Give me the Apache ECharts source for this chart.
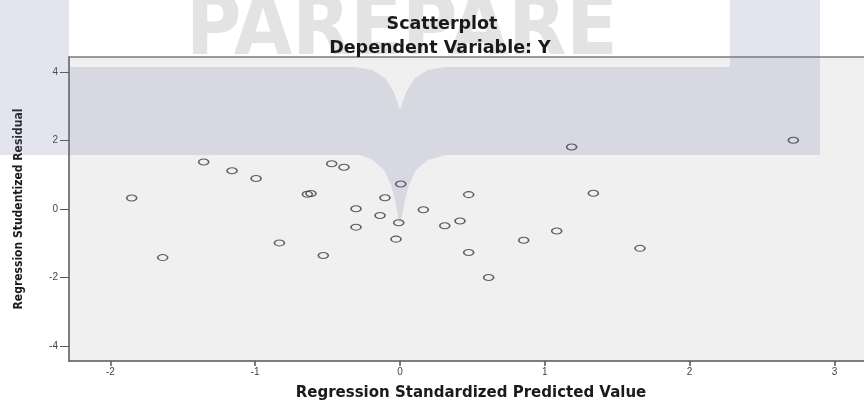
<!DOCTYPE html>
<html>
<head>
<meta charset="utf-8">
<script src="https://cdn.jsdelivr.net/npm/echarts@6/dist/echarts.min.js"></script>
<style>
  html, body { margin: 0; padding: 0; background: #fff; }
  #main { width: 864px; height: 401px; }
</style>
</head>
<body>
<div id="main"></div>
<script>
// standardized predicted value (x) and studentized residual (y)
var predicted = [-1.853, -1.639, -1.356, -1.160, -0.994, -0.833, -0.640, -0.615, -0.530, -0.472,
                 -0.387, -0.304, -0.304, -0.138, -0.104, -0.028, -0.009, 0.005, 0.161, 0.309,
                 0.414, 0.474, 0.474, 0.612, 0.854, 1.082, 1.185, 1.335, 1.657, 2.716];
var residual = [0.32, -1.42, 1.37, 1.12, 0.89, -0.99, 0.43, 0.45, -1.36, 1.32,
                1.22, 0.01, -0.53, -0.19, 0.33, -0.88, -0.40, 0.73, -0.02, -0.49,
                -0.35, 0.42, -1.27, -2.00, -0.91, -0.64, 1.81, 0.46, -1.15, 2.01];
var xTicks = [-2, -1, 0, 1, 2, 3];
var yTicks = [-4, -2, 0, 2, 4];

var Scatter_Resid = function () {

    const title = 'Scatterplot';
    const subTitle = 'Dependent Variable: Y';
    const xName = 'Regression Standardized Predicted Value';
    const yName = 'Regression Studentized Residual';

    // watermark outline (decoration only, not data)
    const wmShape = [
        [0, 0], [69, 0], [69, 67], [355, 67], [372, 70], [385, 78], [394, 92], [400, 110],
        [406, 92], [415, 78], [428, 70], [445, 67], [730, 67], [730, 0], [820, 0], [820, 155],
        [445, 155], [428, 160], [416, 170], [409, 185], [405, 200], [401, 222], [399, 222],
        [395, 200], [391, 185], [384, 170], [373, 160], [360, 155], [0, 155]
    ];

    var buildPoints = function () {
        var result = [];
        for (var i = 0; i < predicted.length; i++) {
            result.push([predicted[i], residual[i]]);
        }
        return result;
    };

    var initChart = function () {
        var myChart = echarts.init(document.getElementById('main'), null, {renderer: 'canvas'});

        var option = {
            backgroundColor: '#ffffff',
            animation: false,
            title: [
                {   // 标题
                    text: title, left: 437, top: 10, textAlign: 'center',
                    textStyle: {fontFamily: 'DejaVu Sans', fontWeight: 'bold', fontSize: 17.5, color: '#1a1a1a'}
                },
                {
                    text: subTitle, left: 435, top: 34, textAlign: 'center',
                    textStyle: {fontFamily: 'DejaVu Sans', fontWeight: 'bold', fontSize: 17.5, color: '#1a1a1a'}
                }
            ],
            graphic: [
                {
                    type: 'text', x: 186, y: -10, z: -10, silent: true,
                    style: {text: 'PAREPARE', font: 'bold 84px "DejaVu Sans Condensed", "DejaVu Sans"', fill: '#e3e3e3'}
                },
                {
                    type: 'polygon', z: 1, silent: true,
                    shape: {points: wmShape},
                    style: {fill: 'rgba(120,120,170,0.2)'}
                }
            ],
            grid: {
                show: true,
                left: 69, top: 57, right: 0, height: 304,
                outerBoundsMode: 'none',
                containLabel: false,
                backgroundColor: '#f0f0f0',
                borderWidth: 0
            },
            xAxis: [
                {
                    type: 'value',
                    min: -2.286, max: 3.204,
                    name: xName,
                    nameLocation: 'middle',
                    nameGap: 25,
                    nameTextStyle: {fontFamily: 'DejaVu Sans', fontWeight: 'bold', fontSize: 15, color: '#1a1a1a', padding: [0, 0, 0, 9]},
                    axisLine: {show: true, onZero: false, lineStyle: {color: '#555', width: 1.5}},
                    axisTick: {show: true, length: 5, customValues: xTicks, lineStyle: {color: '#555', width: 1.5}},
                    axisLabel: {customValues: xTicks, margin: 6, fontFamily: 'Liberation Sans', fontSize: 10, color: '#444'},
                    splitLine: {show: false}
                },
                {   // top border
                    type: 'value', position: 'top',
                    min: -2.286, max: 3.204,
                    axisLine: {show: true, onZero: false, lineStyle: {color: '#7a7a7a', width: 1.5}},
                    axisTick: {show: false}, axisLabel: {show: false}, splitLine: {show: false}
                }
            ],
            yAxis: {
                type: 'value',
                min: -4.44, max: 4.44,
                name: yName,
                nameLocation: 'middle',
                nameGap: 44,
                nameTextStyle: {fontFamily: '"DejaVu Sans Condensed", "DejaVu Sans"', fontWeight: 'bold', fontSize: 12, color: '#1a1a1a'},
                axisLine: {show: true, onZero: false, lineStyle: {color: '#555', width: 1.5}},
                axisTick: {show: true, length: 9, customValues: yTicks, lineStyle: {color: '#555', width: 1}},
                axisLabel: {customValues: yTicks, margin: 11, fontFamily: 'Liberation Sans', fontSize: 10, color: '#444'},
                splitLine: {show: false}
            },
            series: [{
                type: 'scatter',
                z: 5,
                data: buildPoints(),
                symbol: 'circle',
                symbolSize: [10, 6],
                itemStyle: {color: 'rgba(0,0,0,0)', borderColor: '#3a3a3a', borderWidth: 1.3}
            }]
        };

        myChart.setOption(option);
    };

    return {
        init: function () {
            initChart();
        }
    };
}();

Scatter_Resid.init();
</script>
</body>
</html>
